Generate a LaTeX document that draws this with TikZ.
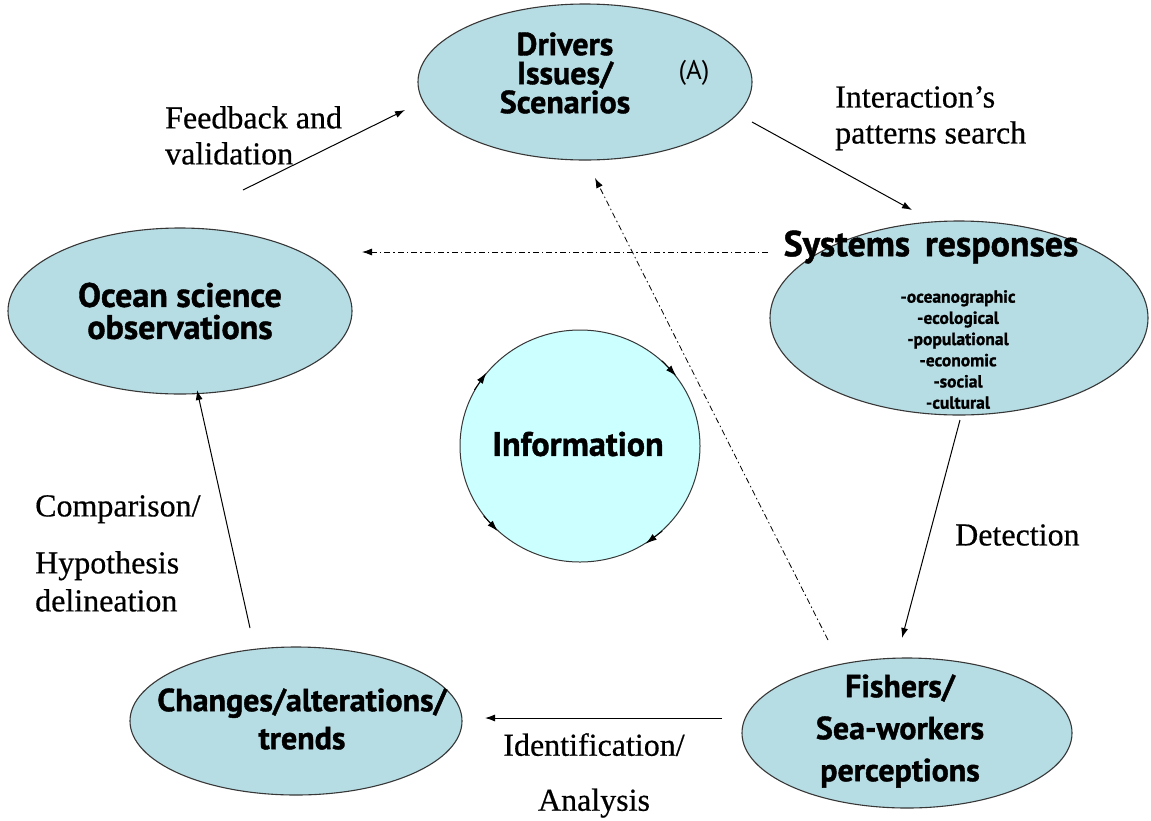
\documentclass[tikz,border=0pt]{standalone}
\usepackage{fontspec}
\setmainfont{Liberation Serif}[FakeBold=0.5]
\newfontfamily\headfont{PT Sans Bold}[FakeBold=1.2]
\newfontfamily\tagfont{PT Sans}
\usetikzlibrary{shapes.geometric,arrows.meta}
\definecolor{cellblue}{RGB}{183,221,228}
\definecolor{infocyan}{RGB}{204,255,255}
\definecolor{rimgray}{RGB}{55,55,55}

\begin{document}
\begin{tikzpicture}[x=1pt,y=-1pt,
  bubble/.style={ellipse, draw=rimgray, line width=1.1pt, fill=cellblue, inner sep=0pt},
  headtxt/.style={font=\headfont\fontsize{32}{29}\selectfont, align=center, inner sep=0pt},
  subtxt/.style={font=\headfont\fontsize{17.5}{21.2}\selectfont, align=center, inner sep=0pt},
  edgetxt/.style={font=\fontsize{32}{36}\selectfont, inner sep=0pt},
  flow/.style={-{Latex[length=10pt,width=7pt]}, line width=1pt},
  hint/.style={flow, dash pattern=on 6pt off 3pt on 1.5pt off 3pt, line width=0.8pt},
  spin/.style={-{Latex[length=11pt,width=7pt]}, line width=0.9pt}
]
\useasboundingbox (0,0) rectangle (1151,820);
\fill[white] (0,0) rectangle (1151,820);

% ---- the five stages of the cycle ----
\node[bubble, minimum width=334pt, minimum height=156pt] (drv) at (585,82) {};
\node[headtxt] (drvtxt) at (565,73) {Drivers\\Issues/\\Scenarios};
\node[font=\tagfont\fontsize{27}{27}\selectfont, inner sep=0pt] (drvtag) at (694,73) {(A)};

\node[bubble, minimum width=378pt, minimum height=194pt] (sys) at (959,318) {};
\node[font=\headfont\fontsize{36}{36}\selectfont, inner sep=0pt] (systitle) at (931,247) {Systems\, responses};
\node[subtxt, anchor=north] (syslist) at (958,290)
  {-oceanographic\\-ecological\\-populational\\-economic\\-social\\-cultural};

\node[bubble, minimum width=330pt, minimum height=150pt] (fish) at (907,733) {};
\node[headtxt, font=\headfont\fontsize{32}{42}\selectfont] (fishtxt) at (900,731)
  {Fishers/\\Sea-workers\\perceptions};

\node[bubble, minimum width=332pt, minimum height=148pt] (chg) at (296,721) {};
\node[headtxt, font=\headfont\fontsize{32}{38}\selectfont] (chgtxt) at (302,719)
  {Changes/alterations/\\trends};

\node[bubble, minimum width=344pt, minimum height=166pt] (ocean) at (180,311) {};
\node[headtxt, font=\headfont\fontsize{34}{32}\selectfont] (oceantxt) at (180,311)
  {Ocean science\\observations};

% ---- central information loop ----
\node[ellipse, draw=rimgray, line width=1pt, fill=infocyan, inner sep=0pt,
      minimum width=240pt, minimum height=232pt] (info) at (580,446) {};
\node[headtxt, font=\headfont\fontsize{34}{34}\selectfont] (infotxt) at (578,444) {Information};
\draw[spin] (info.152) -- (info.142);
\draw[spin] (info.46) -- (info.36);
\draw[spin] (info.216) -- (info.226);
\draw[spin] (info.314) -- (info.304);

% ---- connector end points ----
\coordinate (fbS) at (243,190);  \coordinate (fbE) at (405,110);
\coordinate (inS) at (752,122);  \coordinate (inE) at (912,210);
\coordinate (dtS) at (960,420);  \coordinate (dtE) at (902,638);
\coordinate (idS) at (722,718);  \coordinate (idE) at (485,718);
\coordinate (cpS) at (250,628);  \coordinate (cpE) at (197,390);
\coordinate (rtS) at (768,252);  \coordinate (rtE) at (362,252);
\coordinate (upS) at (828,640);  \coordinate (upE) at (595,178);

\draw[flow] (fbS) -- (fbE);
\draw[flow] (inS) -- (inE);
\draw[flow] (dtS) -- (dtE);
\draw[flow] (idS) -- (idE);
\draw[flow] (cpS) -- (cpE);
\draw[hint] (rtS) -- (rtE);
\draw[hint] (upS) -- (upE);

% ---- connector labels ----
\node[edgetxt, anchor=north west, align=left] (fblab) at (165,106) {Feedback and\\validation};
\node[edgetxt, anchor=north west, align=left] (inlab) at (835,86) {Interaction’s\\patterns search};
\node[edgetxt, anchor=west] (dtlab) at (955,535) {Detection};
\node[edgetxt, font=\fontsize{32}{38}\selectfont, anchor=north west, align=left] (cplab) at (35,495)
  {Comparison/\\[19pt]Hypothesis\\delineation};
\node[edgetxt, anchor=north, align=center] (idlab) at (594,733)
  {Identification/\\[19pt]Analysis};
\end{tikzpicture}
\end{document}
